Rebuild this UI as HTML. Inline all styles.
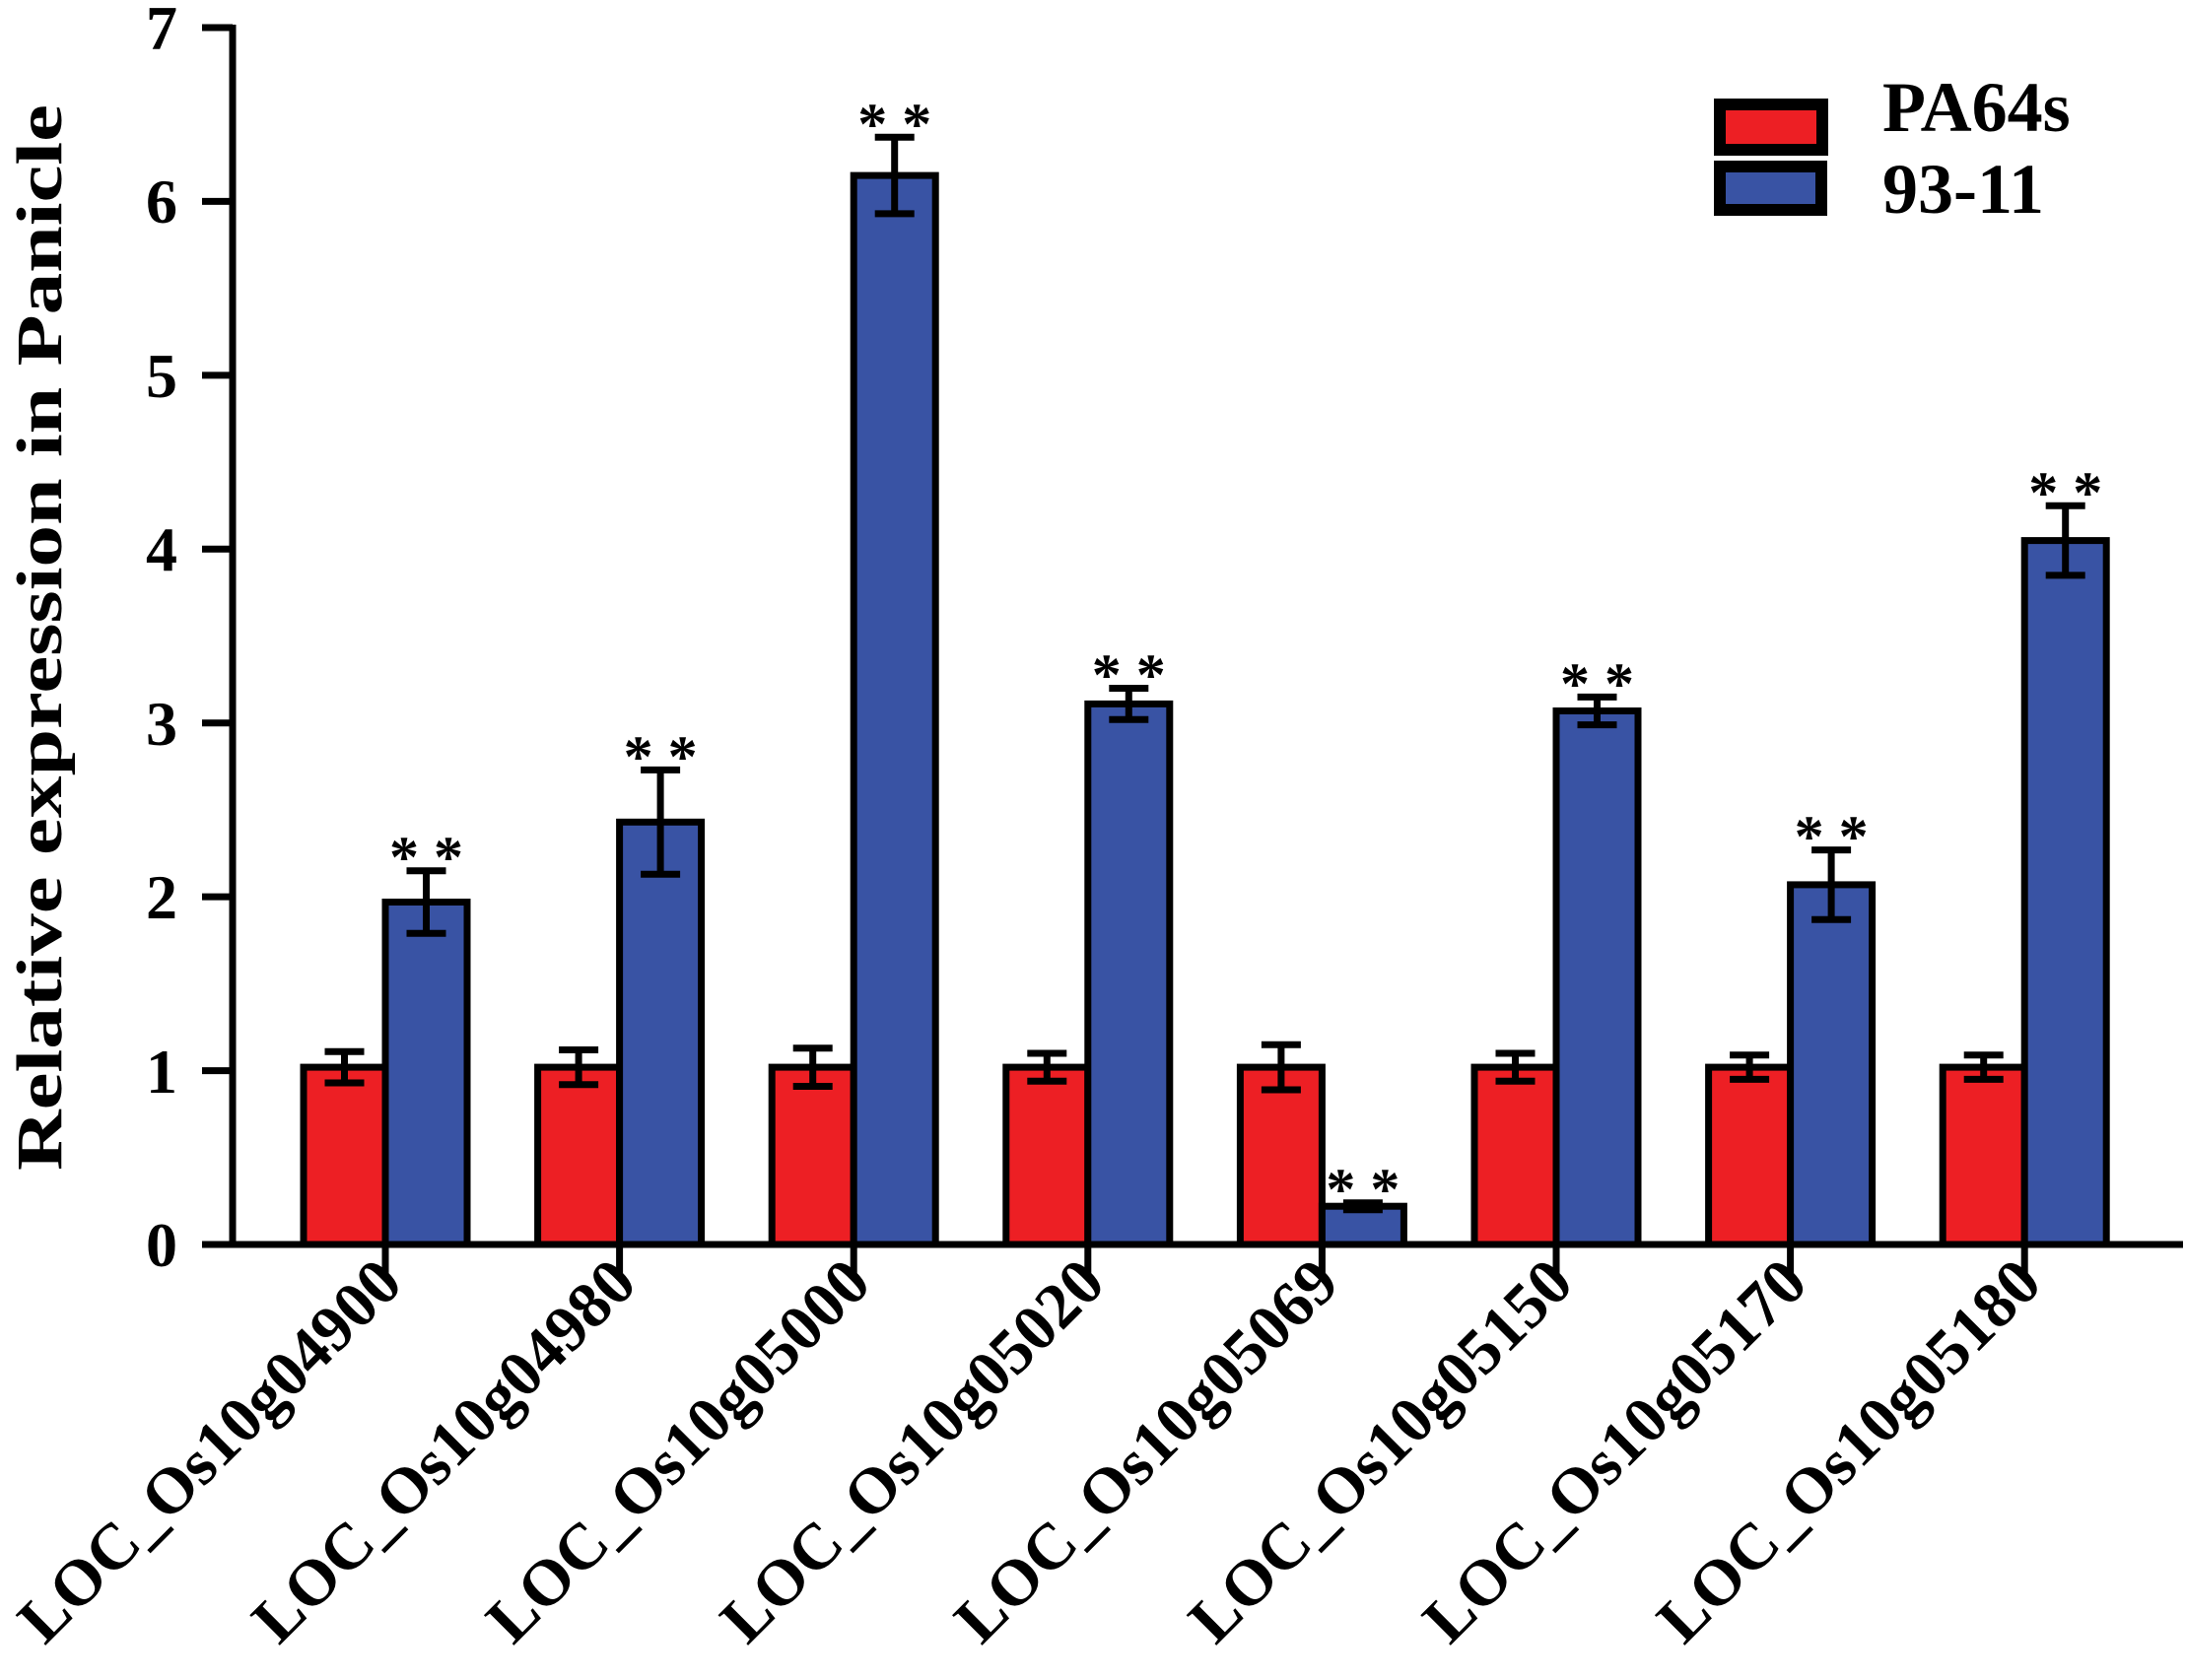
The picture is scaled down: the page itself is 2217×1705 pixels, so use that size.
<!DOCTYPE html>
<html><head><style>body{margin:0;background:#fff}svg{display:block}text{font-family:"Liberation Serif",serif;font-weight:bold}</style></head>
<body>
<svg width="2217" height="1705" viewBox="0 0 2217 1705" xmlns="http://www.w3.org/2000/svg">
<g stroke="#000" stroke-width="7">
<rect x="308" y="1083.1" width="83" height="179.9" fill="#ed1f24"/>
<rect x="545.6" y="1083.1" width="83" height="179.9" fill="#ed1f24"/>
<rect x="783.2" y="1083.1" width="83" height="179.9" fill="#ed1f24"/>
<rect x="1020.8" y="1083.1" width="83" height="179.9" fill="#ed1f24"/>
<rect x="1258.4" y="1083.1" width="83" height="179.9" fill="#ed1f24"/>
<rect x="1496" y="1083.1" width="83" height="179.9" fill="#ed1f24"/>
<rect x="1733.6" y="1083.1" width="83" height="179.9" fill="#ed1f24"/>
<rect x="1971.2" y="1083.1" width="83" height="179.9" fill="#ed1f24"/>

<rect x="391" y="915.5" width="83" height="347.5" fill="#3953a4"/>
<rect x="628.6" y="834.3" width="83" height="428.7" fill="#3953a4"/>
<rect x="866.2" y="178.1" width="83" height="1084.9" fill="#3953a4"/>
<rect x="1103.8" y="714.4" width="83" height="548.6" fill="#3953a4"/>
<rect x="1341.4" y="1224.2" width="83" height="38.8" fill="#3953a4"/>
<rect x="1579" y="721.5" width="83" height="541.5" fill="#3953a4"/>
<rect x="1816.6" y="897.9" width="83" height="365.1" fill="#3953a4"/>
<rect x="2054.2" y="548.6" width="83" height="714.4" fill="#3953a4"/>

<g fill="none">
<path d="M349.5 1067.2V1099M329.5 1067.2h40M329.5 1099h40"/>
<path d="M587.1 1065.5V1100.7M567.1 1065.5h40M567.1 1100.7h40"/>
<path d="M824.7 1063.7V1102.5M804.7 1063.7h40M804.7 1102.5h40"/>
<path d="M1062.3 1069V1097.2M1042.3 1069h40M1042.3 1097.2h40"/>
<path d="M1299.9 1060.2V1106M1279.9 1060.2h40M1279.9 1106h40"/>
<path d="M1537.5 1069V1097.2M1517.5 1069h40M1517.5 1097.2h40"/>
<path d="M1775.1 1070.8V1095.4M1755.1 1070.8h40M1755.1 1095.4h40"/>
<path d="M2012.7 1070.8V1095.4M1992.7 1070.8h40M1992.7 1095.4h40"/>

<path d="M432.5 883.7V947.3M412.5 883.7h40M412.5 947.3h40"/>
<path d="M670.1 781.4V887.2M650.1 781.4h40M650.1 887.2h40"/>
<path d="M907.7 139.3V216.9M887.7 139.3h40M887.7 216.9h40"/>
<path d="M1145.3 698.5V730.3M1125.3 698.5h40M1125.3 730.3h40"/>
<path d="M1382.9 1220.7V1227.7M1362.9 1220.7h40M1362.9 1227.7h40"/>
<path d="M1620.5 707.4V735.6M1600.5 707.4h40M1600.5 735.6h40"/>
<path d="M1858.1 862.6V933.2M1838.1 862.6h40M1838.1 933.2h40"/>
<path d="M2095.7 513.3V583.9M2075.7 513.3h40M2075.7 583.9h40"/>
</g>
</g>
<g font-size="60" text-anchor="middle" fill="#000" style="font-weight:normal">
<text x="432.5" y="890">* *</text>
<text x="670.1" y="788">* *</text>
<text x="907.7" y="146">* *</text>
<text x="1145.3" y="705">* *</text>
<text x="1382.9" y="1227">* *</text>
<text x="1620.5" y="714">* *</text>
<text x="1858.1" y="869">* *</text>
<text x="2095.7" y="520">* *</text>
</g>
<!-- axes -->
<line x1="236" y1="25" x2="236" y2="1266" stroke="#000" stroke-width="7"/>
<line x1="205" y1="1263" x2="2215" y2="1263" stroke="#000" stroke-width="7"/>
<g stroke="#000" stroke-width="7">
<line x1="205" y1="28" x2="236" y2="28"/>
<line x1="205" y1="204.4" x2="236" y2="204.4"/>
<line x1="205" y1="380.9" x2="236" y2="380.9"/>
<line x1="205" y1="557.3" x2="236" y2="557.3"/>
<line x1="205" y1="733.7" x2="236" y2="733.7"/>
<line x1="205" y1="910.1" x2="236" y2="910.1"/>
<line x1="205" y1="1086.6" x2="236" y2="1086.6"/>
<line x1="391" y1="1263" x2="391" y2="1292"/>
<line x1="628.6" y1="1263" x2="628.6" y2="1292"/>
<line x1="866.2" y1="1263" x2="866.2" y2="1292"/>
<line x1="1103.8" y1="1263" x2="1103.8" y2="1292"/>
<line x1="1341.4" y1="1263" x2="1341.4" y2="1292"/>
<line x1="1579" y1="1263" x2="1579" y2="1292"/>
<line x1="1816.6" y1="1263" x2="1816.6" y2="1292"/>
<line x1="2054.2" y1="1263" x2="2054.2" y2="1292"/>
</g>
<g font-size="64" text-anchor="end">
<text x="180" y="1285">0</text>
<text x="180" y="1109">1</text>
<text x="180" y="932">2</text>
<text x="180" y="756">3</text>
<text x="180" y="579">4</text>
<text x="180" y="403">5</text>
<text x="180" y="226">6</text>
<text x="180" y="50">7</text>
</g>
<text transform="translate(62,647) rotate(-90)" font-size="66" text-anchor="middle" textLength="1082" lengthAdjust="spacingAndGlyphs">Relative expression in Panicle</text>
<!-- legend -->
<rect x="1745" y="106" width="104" height="46" fill="#ed1f24" stroke="#000" stroke-width="12"/>
<rect x="1745" y="169" width="103" height="44" fill="#3953a4" stroke="#000" stroke-width="12"/>
<text x="1910" y="133" font-size="72">PA64s</text>
<text x="1910" y="216" font-size="72">93-11</text>
<g font-size="66" text-anchor="end">
<text transform="translate(411,1305) rotate(-45)">LOC_Os10g04900</text>
<text transform="translate(648.6,1305) rotate(-45)">LOC_Os10g04980</text>
<text transform="translate(886.2,1305) rotate(-45)">LOC_Os10g05000</text>
<text transform="translate(1123.8,1305) rotate(-45)">LOC_Os10g05020</text>
<text transform="translate(1361.4,1305) rotate(-45)">LOC_Os10g05069</text>
<text transform="translate(1599,1305) rotate(-45)">LOC_Os10g05150</text>
<text transform="translate(1836.6,1305) rotate(-45)">LOC_Os10g05170</text>
<text transform="translate(2074.2,1305) rotate(-45)">LOC_Os10g05180</text>
</g>
</svg>
</body></html>
